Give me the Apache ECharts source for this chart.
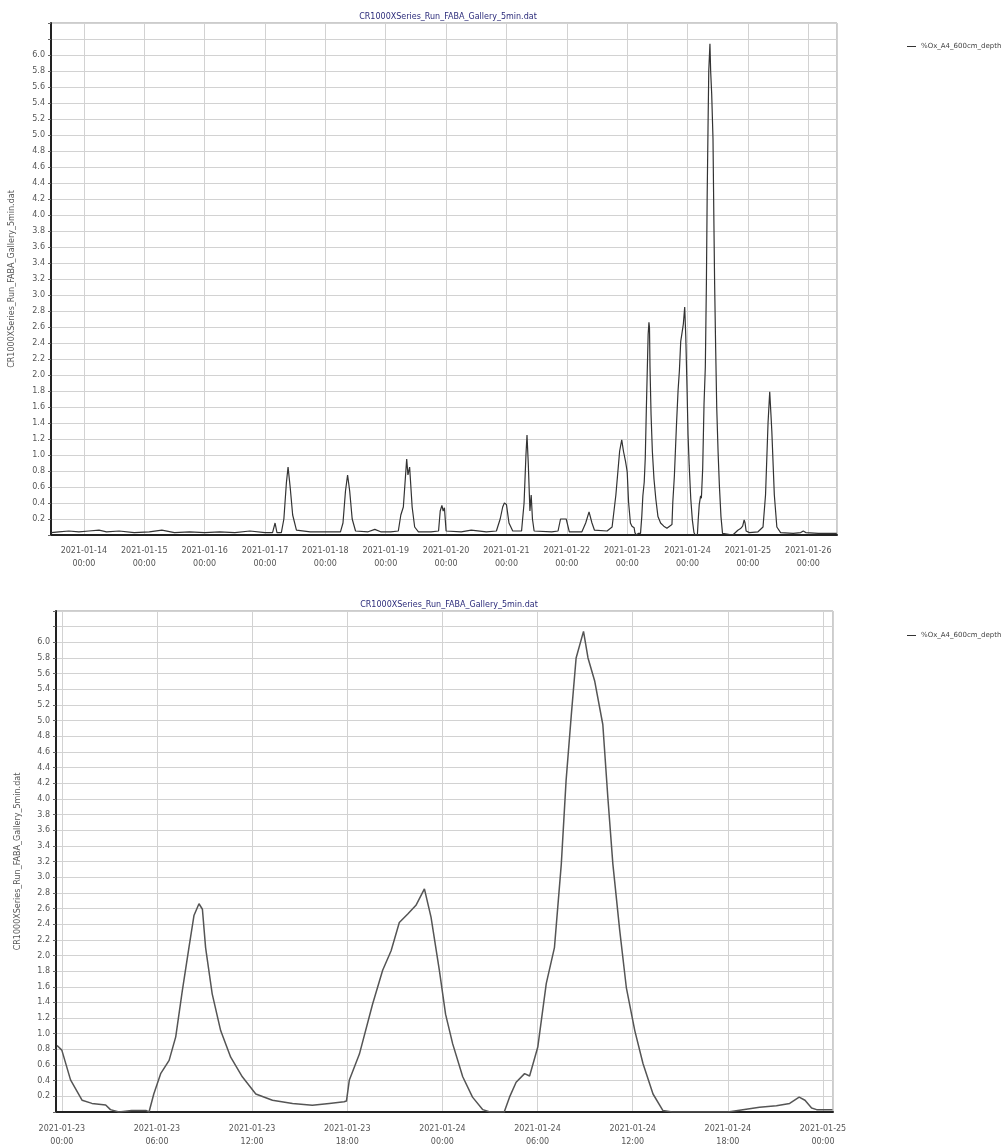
<!DOCTYPE html>
<html><head><meta charset="utf-8">
<script src="https://cdn.jsdelivr.net/npm/echarts@6/dist/echarts.min.js"></script>
<style>html,body{margin:0;padding:0;background:#fff}#c{width:1005px;height:1148px}</style>
</head><body><div id="c"></div>
<script>
const chartTitle = 'CR1000XSeries_Run_FABA_Gallery_5min.dat';
const yAxisName = 'CR1000XSeries_Run_FABA_Gallery_5min.dat';
const seriesName = '%Ox_A4_600cm_depth';

// overview (top chart) readings outside the detailed window
const overviewTimes = [
 '2021-01-13 11:00','2021-01-13 14:00','2021-01-13 18:00','2021-01-13 22:00','2021-01-14 02:00','2021-01-14 06:00',
 '2021-01-14 09:00','2021-01-14 14:00','2021-01-14 20:00','2021-01-15 02:00','2021-01-15 07:00','2021-01-15 12:00',
 '2021-01-15 18:00','2021-01-16 00:00','2021-01-16 06:00','2021-01-16 12:00','2021-01-16 18:00','2021-01-17 00:00',
 '2021-01-17 03:00','2021-01-17 04:00','2021-01-17 04:45','2021-01-17 06:30','2021-01-17 07:30','2021-01-17 08:30',
 '2021-01-17 09:10','2021-01-17 10:00','2021-01-17 11:00','2021-01-17 12:30','2021-01-17 18:00','2021-01-18 00:00',
 '2021-01-18 06:00','2021-01-18 07:00','2021-01-18 08:00','2021-01-18 08:50','2021-01-18 09:40','2021-01-18 10:40',
 '2021-01-18 12:00','2021-01-18 17:00','2021-01-18 19:40','2021-01-18 22:00','2021-01-19 02:00','2021-01-19 05:00',
 '2021-01-19 06:00','2021-01-19 07:00','2021-01-19 08:00','2021-01-19 08:20','2021-01-19 08:50','2021-01-19 09:30',
 '2021-01-19 10:30','2021-01-19 11:30','2021-01-19 13:00','2021-01-19 18:00','2021-01-19 21:00','2021-01-19 21:40',
 '2021-01-19 22:20','2021-01-19 22:50','2021-01-19 23:20','2021-01-20 00:00','2021-01-20 06:00','2021-01-20 10:00',
 '2021-01-20 16:00','2021-01-20 20:00','2021-01-20 21:30','2021-01-20 22:30','2021-01-20 23:10','2021-01-21 00:00',
 '2021-01-21 01:00','2021-01-21 02:30','2021-01-21 06:00','2021-01-21 07:00','2021-01-21 07:45','2021-01-21 08:10',
 '2021-01-21 08:40','2021-01-21 09:20','2021-01-21 09:50','2021-01-21 10:20','2021-01-21 11:00','2021-01-21 18:00',
 '2021-01-21 20:30','2021-01-21 21:30','2021-01-21 22:30','2021-01-21 23:00','2021-01-21 23:45','2021-01-22 01:00',
 '2021-01-22 06:00','2021-01-22 07:30','2021-01-22 08:50','2021-01-22 10:00','2021-01-22 11:00','2021-01-22 16:00',
 '2021-01-22 18:00','2021-01-22 19:30','2021-01-22 21:00','2021-01-22 21:50','2021-01-22 22:30','2021-01-22 23:20',
 '2021-01-25 01:00','2021-01-25 04:00','2021-01-25 06:00','2021-01-25 07:00','2021-01-25 08:00','2021-01-25 08:40',
 '2021-01-25 09:10','2021-01-25 09:30','2021-01-25 10:30','2021-01-25 11:30','2021-01-25 13:00','2021-01-25 18:00',
 '2021-01-25 21:00','2021-01-25 22:00','2021-01-25 23:00','2021-01-26 04:00','2021-01-26 11:20'
];
const overviewValues = [
 0.03,0.04,0.05,0.04,0.05,0.06,
 0.04,0.05,0.03,0.04,0.06,0.03,
 0.04,0.03,0.04,0.03,0.05,0.03,
 0.03,0.15,0.03,0.03,0.20,0.65,
 0.85,0.60,0.25,0.06,0.04,0.04,
 0.04,0.15,0.55,0.75,0.55,0.20,
 0.05,0.04,0.07,0.04,0.04,0.05,
 0.25,0.35,0.80,0.95,0.75,0.85,
 0.35,0.10,0.04,0.04,0.05,0.30,
 0.37,0.30,0.34,0.05,0.04,0.06,
 0.04,0.05,0.20,0.35,0.40,0.38,
 0.15,0.05,0.05,0.40,1.00,1.25,
 0.90,0.30,0.50,0.20,0.05,0.04,
 0.05,0.20,0.20,0.22,0.20,0.04,
 0.04,0.15,0.29,0.15,0.06,0.05,
 0.10,0.50,1.05,1.19,1.05,0.92,
 0.03,0.04,0.10,0.50,1.40,1.79,
 1.50,1.30,0.50,0.10,0.03,0.02,
 0.03,0.05,0.03,0.02,0.02
];

// detailed window (bottom chart)
const detailTimes = [
 '2021-01-22 23:42','2021-01-23 00:00','2021-01-23 00:33','2021-01-23 01:17','2021-01-23 01:54','2021-01-23 02:46',
 '2021-01-23 03:04','2021-01-23 03:36','2021-01-23 04:24','2021-01-23 05:18','2021-01-23 05:30','2021-01-23 05:48',
 '2021-01-23 06:14','2021-01-23 06:46','2021-01-23 07:11','2021-01-23 07:36','2021-01-23 08:01','2021-01-23 08:20',
 '2021-01-23 08:39','2021-01-23 08:52','2021-01-23 09:04','2021-01-23 09:29','2021-01-23 10:01','2021-01-23 10:39',
 '2021-01-23 11:23','2021-01-23 12:14','2021-01-23 13:17','2021-01-23 14:33','2021-01-23 15:48','2021-01-23 16:52',
 '2021-01-23 17:48','2021-01-23 17:57','2021-01-23 18:08','2021-01-23 18:46','2021-01-23 19:36','2021-01-23 20:14',
 '2021-01-23 20:46','2021-01-23 21:17','2021-01-23 21:49','2021-01-23 22:20','2021-01-23 22:52','2021-01-23 23:17',
 '2021-01-23 23:49','2021-01-24 00:12','2021-01-24 00:39','2021-01-24 01:17','2021-01-24 01:54','2021-01-24 02:33',
 '2021-01-24 03:00','2021-01-24 03:54','2021-01-24 04:14','2021-01-24 04:39','2021-01-24 05:11','2021-01-24 05:30',
 '2021-01-24 06:01','2021-01-24 06:33','2021-01-24 07:04','2021-01-24 07:30','2021-01-24 07:48','2021-01-24 08:08',
 '2021-01-24 08:26','2021-01-24 08:54','2021-01-24 09:11','2021-01-24 09:36','2021-01-24 10:07','2021-01-24 10:26',
 '2021-01-24 10:45','2021-01-24 11:11','2021-01-24 11:36','2021-01-24 12:08','2021-01-24 12:39','2021-01-24 13:17',
 '2021-01-24 13:54','2021-01-24 14:30','2021-01-24 18:00','2021-01-24 20:00','2021-01-24 21:04','2021-01-24 21:54',
 '2021-01-24 22:30','2021-01-24 22:52','2021-01-24 23:17','2021-01-24 23:36','2021-01-25 00:36'
];
const detailValues = [
 0.85,0.79,0.41,0.15,0.11,0.09,
 0.03,0.00,0.02,0.02,0.00,0.23,
 0.49,0.66,0.96,1.55,2.10,2.51,
 2.66,2.59,2.10,1.51,1.04,0.70,
 0.45,0.23,0.15,0.11,0.085,0.11,
 0.13,0.14,0.41,0.74,1.38,1.81,
 2.06,2.42,2.53,2.64,2.85,2.49,
 1.80,1.25,0.87,0.45,0.19,0.03,
 0.00,0.00,0.19,0.38,0.49,0.46,
 0.83,1.64,2.10,3.17,4.23,5.08,
 5.80,6.14,5.80,5.51,4.95,4.02,
 3.17,2.32,1.59,1.04,0.62,0.23,
 0.02,0.00,0.00,0.06,0.08,0.11,
 0.19,0.15,0.05,0.03,0.03
];

const yTickLabels = ['0.2','0.4','0.6','0.8','1.0','1.2','1.4','1.6','1.8','2.0','2.2','2.4','2.6','2.8','3.0',
 '3.2','3.4','3.6','3.8','4.0','4.2','4.4','4.6','4.8','5.0','5.2','5.4','5.6','5.8','6.0'];

const toPairs = (ts, vs) => ts.map((t, i) => [echarts.time.parse(t).getTime(), vs[i]]);
const fullData = toPairs(overviewTimes, overviewValues).concat(toPairs(detailTimes, detailValues)).sort((a, b) => a[0] - b[0]);
const detailData = toPairs(detailTimes, detailValues);

const FONT = 'DejaVu Sans';
const labelColor = '#555';
const gridColor = '#d2d2d2';
const HOUR = 3600 * 1000;

function yAxisFor(idx, gap) {
  return {
    type: 'value', gridIndex: idx, min: 0, max: 6.4, interval: 0.2,
    name: yAxisName, nameLocation: 'middle', nameGap: gap, nameRotate: 90,
    nameTextStyle: { fontFamily: FONT, fontSize: 8, color: labelColor },
    axisLine: { show: true, lineStyle: { color: '#222', width: 2 } },
    axisTick: { show: true, length: 3, lineStyle: { color: '#666' } },
    axisLabel: {
      fontFamily: FONT, fontSize: 8, color: labelColor, margin: 6,
      formatter: v => { const s = v.toFixed(1); return yTickLabels.includes(s) ? s : ''; }
    },
    splitLine: { show: true, lineStyle: { color: gridColor, width: 1 } }
  };
}

function xAxisFor(idx, minT, maxT, approxMs, splitN, aligned, margin) {
  return {
    type: 'time', gridIndex: idx, min: minT, max: maxT,
    splitNumber: splitN, minInterval: approxMs, maxInterval: approxMs,
    axisLine: { show: true, lineStyle: { color: '#222', width: 2 } },
    axisTick: { show: false },
    axisLabel: {
      fontFamily: FONT, fontSize: 8, color: labelColor, margin: margin, lineHeight: 13,
      hideOverlap: false,
      formatter: v => {
        const d = new Date(v);
        if (!aligned(d)) return '';
        return echarts.time.format(v, '{yyyy}-{MM}-{dd}', false) + '\n' + echarts.time.format(v, '{HH}:{mm}', false);
      }
    },
    splitLine: { show: true, lineStyle: { color: gridColor, width: 1 } }
  };
}

const chart = echarts.init(document.getElementById('c'), null, { renderer: 'canvas' });
chart.setOption({
  backgroundColor: '#fff',
  animation: false,
  title: [
    { text: chartTitle, left: 443, top: 8, textAlign: 'center',
      textStyle: { fontFamily: FONT, fontSize: 8, fontWeight: 'normal', color: '#2b2b7a' } },
    { text: chartTitle, left: 444, top: 596, textAlign: 'center',
      textStyle: { fontFamily: FONT, fontSize: 8, fontWeight: 'normal', color: '#2b2b7a' } }
  ],
  legend: [
    { left: 902, top: 38, itemWidth: 9, itemHeight: 1, itemGap: 4, icon: 'rect',
      textStyle: { fontFamily: FONT, fontSize: 7, color: '#444' }, data: [seriesName] },
    { left: 902, top: 627, itemWidth: 9, itemHeight: 1, itemGap: 4, icon: 'rect',
      textStyle: { fontFamily: FONT, fontSize: 7, color: '#444' }, data: [seriesName] }
  ],
  grid: [
    { left: 49, top: 23, width: 788, height: 512, show: true, borderColor: '#999', borderWidth: 1, backgroundColor: '#fff' },
    { left: 56, top: 611, width: 777, height: 504, show: true, borderColor: '#999', borderWidth: 1, backgroundColor: '#fff' }
  ],
  xAxis: [
    xAxisFor(0, '2021-01-13 10:55', '2021-01-26 11:25', 24 * HOUR, 13, d => d.getHours() === 0 && d.getMinutes() === 0, 9),
    xAxisFor(1, '2021-01-22 23:38', '2021-01-25 00:38', 7 * HOUR, 7, d => d.getHours() % 6 === 0 && d.getMinutes() === 0, 10)
  ],
  yAxis: [ yAxisFor(0, 35), yAxisFor(1, 34) ],
  series: [
    { name: seriesName, type: 'line', xAxisIndex: 0, yAxisIndex: 0, data: fullData, showSymbol: false,
      lineStyle: { color: '#333', width: 1.2 }, itemStyle: { color: '#333' } },
    { name: seriesName, type: 'line', xAxisIndex: 1, yAxisIndex: 1, data: detailData, showSymbol: false,
      lineStyle: { color: '#555', width: 1.5 }, itemStyle: { color: '#555' } }
  ]
});
</script></body></html>
